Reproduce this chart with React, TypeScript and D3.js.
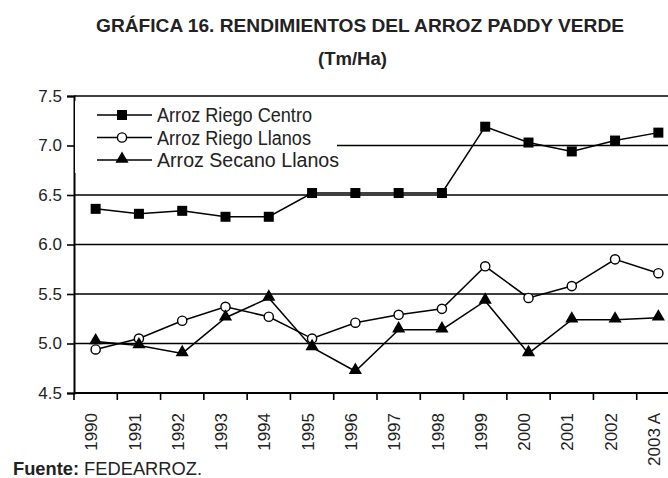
import React, { useEffect, useRef } from "react";
import * as d3 from "d3";

const years = ["1990", "1991", "1992", "1993", "1994", "1995", "1996", "1997", "1998", "1999", "2000", "2001", "2002", "2003 A"];
const riegoCentro = [6.36, 6.31, 6.34, 6.28, 6.28, 6.52, 6.52, 6.52, 6.52, 7.19, 7.03, 6.94, 7.05, 7.13];
const riegoLlanos = [4.94, 5.05, 5.23, 5.37, 5.27, 5.05, 5.21, 5.29, 5.35, 5.78, 5.46, 5.58, 5.85, 5.71];
const secanoLlanos = [5.02, 4.98, 4.9, 5.26, 5.46, 4.96, 4.72, 5.14, 5.14, 5.43, 4.9, 5.24, 5.24, 5.26];
const yTicks = [4.5, 5.0, 5.5, 6.0, 6.5, 7.0, 7.5];
const seriesNames = ["Arroz Riego Centro", "Arroz Riego Llanos", "Arroz Secano Llanos"];
const legendWidths = [155, 154, 182];

const FONT = "'Liberation Sans Narrow', 'Arial Narrow', 'Liberation Sans', Arial, sans-serif";

function Chart() {
  const ref = useRef<SVGSVGElement>(null);

  useEffect(() => {
    const width = 668;
    const svg = d3.select(ref.current);
    svg.selectAll("*").remove();

    const left = 74;
    const x = d3.scaleBand().domain(years).range([left, 680]);
    const y = d3.scaleLinear().domain([4.5, 7.5]).range([393, 96]);

    // title (condensed look via textLength)
    svg.append("text")
      .attr("x", 96).attr("y", 32)
      .attr("textLength", 528).attr("lengthAdjust", "spacingAndGlyphs")
      .attr("font-family", FONT).attr("font-weight", "bold").attr("font-size", 19)
      .attr("fill", "#222")
      .text("GRÁFICA 16. RENDIMIENTOS DEL ARROZ PADDY VERDE");
    svg.append("text")
      .attr("x", 318).attr("y", 65)
      .attr("textLength", 69).attr("lengthAdjust", "spacingAndGlyphs")
      .attr("font-family", FONT).attr("font-weight", "bold").attr("font-size", 19)
      .attr("fill", "#222")
      .text("(Tm/Ha)");

    // gridlines
    svg.append("g")
      .selectAll("line")
      .data(yTicks)
      .join("line")
      .attr("x1", left).attr("x2", width)
      .attr("y1", (d) => y(d)).attr("y2", (d) => y(d))
      .attr("stroke", "#000").attr("stroke-width", 1.6);

    // y axis
    const yAxis = svg.append("g")
      .attr("transform", `translate(${left},0)`)
      .call(d3.axisLeft(y).tickValues(yTicks).tickFormat(d3.format(".1f")).tickSize(7).tickPadding(5));
    yAxis.select(".domain").attr("stroke-width", 2);
    yAxis.selectAll(".tick line").attr("stroke-width", 1.6);
    yAxis.selectAll("text").attr("font-family", FONT).attr("font-size", 17).attr("fill", "#222");

    // x axis
    const xAxis = svg.append("g")
      .attr("transform", `translate(0,${y(4.5)})`)
      .call(d3.axisBottom(x).tickSize(0));
    xAxis.select(".domain").remove();
    xAxis.selectAll("text")
      .attr("font-family", FONT).attr("font-size", 17).attr("fill", "#222")
      .attr("transform", "rotate(-90)")
      .attr("text-anchor", "end")
      .attr("dx", -20).attr("dy", "0.1em").attr("y", 0);
    svg.append("g")
      .selectAll("line")
      .data(years)
      .join("line")
      .attr("x1", (d) => x(d)!).attr("x2", (d) => x(d)!)
      .attr("y1", y(4.5)).attr("y2", y(4.5) + 7)
      .attr("stroke", "#000").attr("stroke-width", 1.6);
    svg.append("line")
      .attr("x1", left).attr("x2", width)
      .attr("y1", y(4.5)).attr("y2", y(4.5))
      .attr("stroke", "#000").attr("stroke-width", 2);

    // legend background
    svg.append("rect")
      .attr("x", left + 1).attr("y", 101).attr("width", 262).attr("height", 72)
      .attr("fill", "#fff");

    const cx = (i: number) => x(years[i])! + x.bandwidth() / 2;
    const line = d3.line<number>().x((_, i) => cx(i)).y((d) => y(d));
    const tri = d3.symbol().type(d3.symbolTriangle).size(75);

    const drawMarker = (g: any, px: number, py: number, kind: number) => {
      if (kind === 0) {
        g.append("rect").attr("x", px - 5).attr("y", py - 5).attr("width", 10).attr("height", 10).attr("fill", "#000");
      } else if (kind === 1) {
        g.append("circle").attr("cx", px).attr("cy", py).attr("r", 4.6)
          .attr("fill", "#fff").attr("stroke", "#000").attr("stroke-width", 1.4);
      } else {
        g.append("path").attr("d", tri).attr("transform", `translate(${px},${py - 1})`).attr("fill", "#000");
      }
    };

    const drawSeries = (vals: number[], kind: number) => {
      svg.append("path").datum(vals)
        .attr("d", line).attr("fill", "none")
        .attr("stroke", "#000").attr("stroke-width", 1.5);
      const g = svg.append("g");
      vals.forEach((v, i) => drawMarker(g, cx(i), y(v), kind));
    };

    drawSeries(riegoCentro, 0);
    drawSeries(riegoLlanos, 1);
    drawSeries(secanoLlanos, 2);

    // legend
    const lg = svg.append("g");
    seriesNames.forEach((name, i) => {
      const ly = 115 + i * 22.5;
      lg.append("line").attr("x1", 97).attr("x2", 152).attr("y1", ly).attr("y2", ly)
        .attr("stroke", "#000").attr("stroke-width", 1.5);
      drawMarker(lg, 122, ly, i);
      lg.append("text").attr("x", 157).attr("y", ly).attr("dy", "0.36em")
        .attr("textLength", legendWidths[i]).attr("lengthAdjust", "spacingAndGlyphs")
        .attr("font-family", FONT).attr("font-size", 20).attr("fill", "#222")
        .text(name);
    });

    // source
    const src = svg.append("text").attr("x", 13).attr("y", 475)
      .attr("textLength", 189).attr("lengthAdjust", "spacingAndGlyphs")
      .attr("font-family", FONT).attr("font-size", 18).attr("fill", "#222");
    src.append("tspan").attr("font-weight", "bold").text("Fuente: ");
    src.append("tspan").text("FEDEARROZ.");
  }, []);

  return <svg ref={ref} width={668} height={478} style={{ position: "absolute", left: 0, top: 0, background: "#fff" }} />;
}

export default function App() {
  return <Chart />;
}
